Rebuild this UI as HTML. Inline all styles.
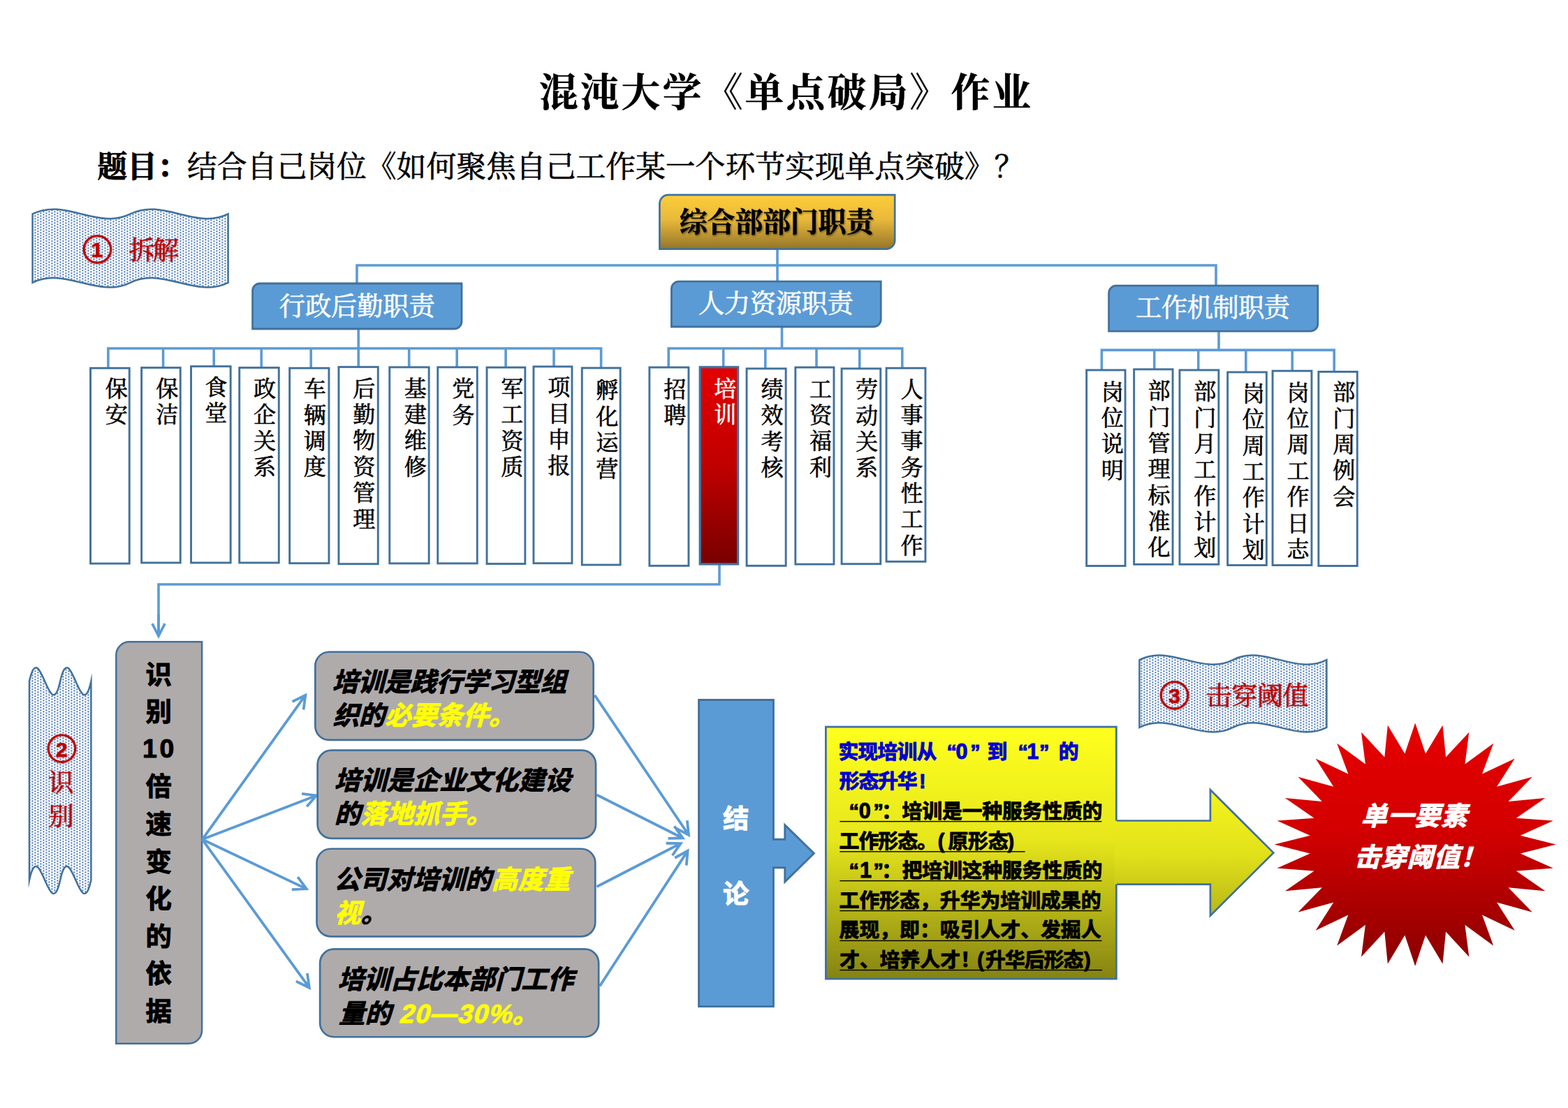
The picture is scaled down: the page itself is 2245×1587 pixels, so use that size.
<!DOCTYPE html>
<html lang="zh-CN"><head><meta charset="utf-8"><title>混沌大学《单点破局》作业</title>
<style>html,body{margin:0;padding:0;background:#fff}
body{width:2245px;height:1587px;position:relative;overflow:hidden;font-family:"Liberation Sans","Noto Sans CJK SC",sans-serif}
svg{position:absolute;left:0;top:0;display:block}
svg .sf{font-family:"Liberation Serif","Noto Serif CJK SC",serif}
svg .ss{font-family:"Liberation Sans","Noto Sans CJK SC",sans-serif;font-weight:bold}</style></head><body>
<svg width="2245" height="1587" viewBox="0 0 2245 1587">
<defs><pattern id="dots" width="8" height="4" patternUnits="userSpaceOnUse" patternTransform="translate(0.4,0.4)"><rect width="8" height="4" fill="#fff"/><rect x="1" y="0" width="2" height="2" fill="#3f70b4"/><rect x="5" y="2" width="2" height="2" fill="#3f70b4"/></pattern>
<linearGradient id="gred" x1="0" y1="0" x2="0" y2="1"><stop offset="0" stop-color="#e40000"/><stop offset="0.5" stop-color="#c00000"/><stop offset="1" stop-color="#780000"/></linearGradient>
<linearGradient id="gstar" x1="0" y1="0" x2="0" y2="1"><stop offset="0" stop-color="#e60000"/><stop offset="0.45" stop-color="#d20000"/><stop offset="1" stop-color="#8a0000"/></linearGradient>
<linearGradient id="ggold" x1="0" y1="0" x2="0" y2="1"><stop offset="0" stop-color="#fdcd3a"/><stop offset="0.45" stop-color="#e9b93b"/><stop offset="1" stop-color="#94752a"/></linearGradient>
<linearGradient id="gyel" x1="0" y1="0" x2="0" y2="1"><stop offset="0" stop-color="#ffff1e"/><stop offset="0.45" stop-color="#e6e61c"/><stop offset="1" stop-color="#858312"/></linearGradient>
<linearGradient id="gyel2" x1="0" y1="0" x2="0" y2="1"><stop offset="0" stop-color="#f4f41e"/><stop offset="0.5" stop-color="#e2e21b"/><stop offset="1" stop-color="#b8b616"/></linearGradient>
<filter id="tsh" x="-5%" y="-20%" width="110%" height="150%"><feDropShadow dx="1.2" dy="1.6" stdDeviation="1.2" flood-color="#000" flood-opacity="0.45"/></filter>
<filter id="tsh2" x="-10%" y="-20%" width="120%" height="150%"><feDropShadow dx="0.7" dy="1" stdDeviation="0.9" flood-color="#000" flood-opacity="0.3"/></filter>
</defs>
<rect width="2245" height="1587" fill="#fff"/>
<text class="sf" x="771.67" y="152.44" font-size="55.91" font-weight="bold" letter-spacing="3.07" fill="#000" stroke="#000" stroke-width="0.5" stroke-linejoin="round">混沌大学《单点破局》作业</text>
<text class="sf" x="139.46" y="253.86" font-size="42.8" font-weight="bold" fill="#000" stroke="#000" stroke-width="0.8" stroke-linejoin="round">题目：</text>
<text class="sf" x="268.06" y="253.86" font-size="42.8" fill="#000" stroke="#000" stroke-width="0.64" stroke-linejoin="round">结合自己岗位《如何聚焦自己工作某一个环节实现单点突破》？</text>
<polyline points="511,406 511,380 1741,380 1741,409" fill="none" stroke="#5b9bd5" stroke-width="3.6" stroke-linejoin="miter"/>
<polyline points="1113,357 1113,403" fill="none" stroke="#5b9bd5" stroke-width="3.6" stroke-linejoin="miter"/>
<polyline points="513.2,471 513.2,499" fill="none" stroke="#5b9bd5" stroke-width="3.6" stroke-linejoin="miter"/>
<polyline points="154.9,526.8 154.9,499 860.6,499 860.6,526.6" fill="none" stroke="#5b9bd5" stroke-width="3.6" stroke-linejoin="miter"/>
<polyline points="233.6,499 233.6,526.2" fill="none" stroke="#5b9bd5" stroke-width="3.6" stroke-linejoin="miter"/>
<polyline points="306.2,499 306.2,524.3" fill="none" stroke="#5b9bd5" stroke-width="3.6" stroke-linejoin="miter"/>
<polyline points="374.2,499 374.2,526.2" fill="none" stroke="#5b9bd5" stroke-width="3.6" stroke-linejoin="miter"/>
<polyline points="445.2,499 445.2,526.8" fill="none" stroke="#5b9bd5" stroke-width="3.6" stroke-linejoin="miter"/>
<polyline points="513.2,499 513.2,525.2" fill="none" stroke="#5b9bd5" stroke-width="3.6" stroke-linejoin="miter"/>
<polyline points="585.7,499 585.7,525.5" fill="none" stroke="#5b9bd5" stroke-width="3.6" stroke-linejoin="miter"/>
<polyline points="654.2,499 654.2,525.5" fill="none" stroke="#5b9bd5" stroke-width="3.6" stroke-linejoin="miter"/>
<polyline points="724.1,499 724.1,525.8" fill="none" stroke="#5b9bd5" stroke-width="3.6" stroke-linejoin="miter"/>
<polyline points="793,499 793,524.6" fill="none" stroke="#5b9bd5" stroke-width="3.6" stroke-linejoin="miter"/>
<polyline points="1119.5,468 1119.5,499" fill="none" stroke="#5b9bd5" stroke-width="3.6" stroke-linejoin="miter"/>
<polyline points="957.2,525.7 957.2,499 1291.8,499 1291.8,526.8" fill="none" stroke="#5b9bd5" stroke-width="3.6" stroke-linejoin="miter"/>
<polyline points="1035.7,499 1035.7,525.2" fill="none" stroke="#5b9bd5" stroke-width="3.6" stroke-linejoin="miter"/>
<polyline points="1095.8,499 1095.8,527.5" fill="none" stroke="#5b9bd5" stroke-width="3.6" stroke-linejoin="miter"/>
<polyline points="1169,499 1169,525.7" fill="none" stroke="#5b9bd5" stroke-width="3.6" stroke-linejoin="miter"/>
<polyline points="1230.7,499 1230.7,527.5" fill="none" stroke="#5b9bd5" stroke-width="3.6" stroke-linejoin="miter"/>
<polyline points="1745,474 1745,501.4" fill="none" stroke="#5b9bd5" stroke-width="3.6" stroke-linejoin="miter"/>
<polyline points="1577.4,529.6 1577.4,501.4 1910.2,501.4 1910.2,532" fill="none" stroke="#5b9bd5" stroke-width="3.6" stroke-linejoin="miter"/>
<polyline points="1652.7,501.4 1652.7,528.5" fill="none" stroke="#5b9bd5" stroke-width="3.6" stroke-linejoin="miter"/>
<polyline points="1715.7,501.4 1715.7,529.6" fill="none" stroke="#5b9bd5" stroke-width="3.6" stroke-linejoin="miter"/>
<polyline points="1783.8,501.4 1783.8,532.6" fill="none" stroke="#5b9bd5" stroke-width="3.6" stroke-linejoin="miter"/>
<polyline points="1850.2,501.4 1850.2,530.8" fill="none" stroke="#5b9bd5" stroke-width="3.6" stroke-linejoin="miter"/>
<polyline points="1030,808 1030,837 227,837 227,909" fill="none" stroke="#5b9bd5" stroke-width="3.6" stroke-linejoin="miter"/>
<path d="M227,880 L227,911 M217.92,893.18 L227,911 L236.08,893.18" fill="none" stroke="#5b9bd5" stroke-width="3.6" stroke-linecap="butt" stroke-linejoin="miter"/>
<rect x="129.55" y="527.25" width="55.7" height="279.9" fill="#fff" stroke="#41719c" stroke-width="2.9"/>
<text class="sf" font-size="32.1" fill="#000" stroke="#000" stroke-width="0.64" stroke-linejoin="round" x="150.65 150.65" y="567.95 605.3">保安</text>
<rect x="202.65" y="526.65" width="55.6" height="279.4" fill="#fff" stroke="#41719c" stroke-width="2.9"/>
<text class="sf" font-size="32.1" fill="#000" stroke="#000" stroke-width="0.64" stroke-linejoin="round" x="223.25 223.25" y="567.95 605.3">保洁</text>
<rect x="273.55" y="524.75" width="56.6" height="281.3" fill="#fff" stroke="#41719c" stroke-width="2.9"/>
<text class="sf" font-size="32.1" fill="#000" stroke="#000" stroke-width="0.64" stroke-linejoin="round" x="293.15 293.15" y="565.75 603.1">食堂</text>
<rect x="342.75" y="526.65" width="56.5" height="279.4" fill="#fff" stroke="#41719c" stroke-width="2.9"/>
<text class="sf" font-size="32.1" fill="#000" stroke="#000" stroke-width="0.64" stroke-linejoin="round" x="362.95 362.95 362.95 362.95" y="567.95 605.3 642.65 680">政企关系</text>
<rect x="414.65" y="527.25" width="56.3" height="279.5" fill="#fff" stroke="#41719c" stroke-width="2.9"/>
<text class="sf" font-size="32.1" fill="#000" stroke="#000" stroke-width="0.64" stroke-linejoin="round" x="434.65 434.65 434.65 434.65" y="568.35 605.7 643.05 680.4">车辆调度</text>
<rect x="484.95" y="525.65" width="56.3" height="282.1" fill="#fff" stroke="#41719c" stroke-width="2.9"/>
<text class="sf" font-size="32.1" fill="#000" stroke="#000" stroke-width="0.64" stroke-linejoin="round" x="505.25 505.25 505.25 505.25 505.25 505.25" y="567.75 605.1 642.45 679.8 717.15 754.5">后勤物资管理</text>
<rect x="557.75" y="525.95" width="56.4" height="281" fill="#fff" stroke="#41719c" stroke-width="2.9"/>
<text class="sf" font-size="32.1" fill="#000" stroke="#000" stroke-width="0.64" stroke-linejoin="round" x="578.65 578.65 578.65 578.65" y="567.75 605.1 642.45 679.8">基建维修</text>
<rect x="626.75" y="525.95" width="56.5" height="281" fill="#fff" stroke="#41719c" stroke-width="2.9"/>
<text class="sf" font-size="32.1" fill="#000" stroke="#000" stroke-width="0.64" stroke-linejoin="round" x="647.25 647.25" y="568.35 605.7">党务</text>
<rect x="697.05" y="526.25" width="54.8" height="281.3" fill="#fff" stroke="#41719c" stroke-width="2.9"/>
<text class="sf" font-size="32.1" fill="#000" stroke="#000" stroke-width="0.64" stroke-linejoin="round" x="717.15 717.15 717.15 717.15" y="567.95 605.3 642.65 680">军工资质</text>
<rect x="763.95" y="525.05" width="55" height="281.7" fill="#fff" stroke="#41719c" stroke-width="2.9"/>
<text class="sf" font-size="32.1" fill="#000" stroke="#000" stroke-width="0.64" stroke-linejoin="round" x="784.25 784.25 784.25 784.25" y="566.15 603.5 640.85 678.2">项目申报</text>
<rect x="833.25" y="527.05" width="54.9" height="282" fill="#fff" stroke="#41719c" stroke-width="2.9"/>
<text class="sf" font-size="32.1" fill="#000" stroke="#000" stroke-width="0.64" stroke-linejoin="round" x="853.25 853.25 853.25 853.25" y="570.45 607.8 645.15 682.5">孵化运营</text>
<rect x="929.85" y="526.15" width="56.1" height="284.2" fill="#fff" stroke="#41719c" stroke-width="2.9"/>
<text class="sf" font-size="32.1" fill="#000" stroke="#000" stroke-width="0.64" stroke-linejoin="round" x="950.25 950.25" y="568.75 606.1">招聘</text>
<rect x="1002.25" y="525.85" width="54.3" height="282.1" fill="url(#gred)" stroke="#41719c" stroke-width="3.3"/>
<text class="sf" font-size="32.1" fill="#fff" stroke="#fff" stroke-width="0.64" stroke-linejoin="round" x="1022.25 1022.25" y="567.95 605.3">培训</text>
<rect x="1069.05" y="527.95" width="56.1" height="282.4" fill="#fff" stroke="#41719c" stroke-width="2.9"/>
<text class="sf" font-size="32.1" fill="#000" stroke="#000" stroke-width="0.64" stroke-linejoin="round" x="1089.55 1089.55 1089.55 1089.55" y="568.95 606.3 643.65 681">绩效考核</text>
<rect x="1138.85" y="526.15" width="55.1" height="282" fill="#fff" stroke="#41719c" stroke-width="2.9"/>
<text class="sf" font-size="32.1" fill="#000" stroke="#000" stroke-width="0.64" stroke-linejoin="round" x="1158.95 1158.95 1158.95 1158.95" y="568.55 605.9 643.25 680.6">工资福利</text>
<rect x="1205.05" y="527.95" width="55.7" height="279.8" fill="#fff" stroke="#41719c" stroke-width="2.9"/>
<text class="sf" font-size="32.1" fill="#000" stroke="#000" stroke-width="0.64" stroke-linejoin="round" x="1224.95 1224.95 1224.95 1224.95" y="569.35 606.7 644.05 681.4">劳动关系</text>
<rect x="1269.05" y="527.25" width="55.9" height="277.1" fill="#fff" stroke="#41719c" stroke-width="2.9"/>
<text class="sf" font-size="32.1" fill="#000" stroke="#000" stroke-width="0.64" stroke-linejoin="round" x="1289.45 1289.45 1289.45 1289.45 1289.45 1289.45 1289.45" y="568.55 605.9 643.25 680.6 717.95 755.3 792.65">人事事务性工作</text>
<rect x="1555.65" y="530.05" width="55.4" height="280.5" fill="#fff" stroke="#41719c" stroke-width="2.9"/>
<text class="sf" font-size="32.1" fill="#000" stroke="#000" stroke-width="0.64" stroke-linejoin="round" x="1576.65 1576.65 1576.65 1576.65" y="572.55 609.9 647.25 684.6">岗位说明</text>
<rect x="1623.65" y="528.95" width="55.4" height="279.4" fill="#fff" stroke="#41719c" stroke-width="2.9"/>
<text class="sf" font-size="32.1" fill="#000" stroke="#000" stroke-width="0.64" stroke-linejoin="round" x="1643.45 1643.45 1643.45 1643.45 1643.45 1643.45 1643.45" y="571.35 608.7 646.05 683.4 720.75 758.1 795.45">部门管理标准化</text>
<rect x="1688.95" y="530.05" width="55.9" height="278.3" fill="#fff" stroke="#41719c" stroke-width="2.9"/>
<text class="sf" font-size="32.1" fill="#000" stroke="#000" stroke-width="0.64" stroke-linejoin="round" x="1709.25 1709.25 1709.25 1709.25 1709.25 1709.25 1709.25" y="572.35 609.7 647.05 684.4 721.75 759.1 796.45">部门月工作计划</text>
<rect x="1757.65" y="533.05" width="55.7" height="276.5" fill="#fff" stroke="#41719c" stroke-width="2.9"/>
<text class="sf" font-size="32.1" fill="#000" stroke="#000" stroke-width="0.64" stroke-linejoin="round" x="1778.65 1778.65 1778.65 1778.65 1778.65 1778.65 1778.65" y="574.95 612.3 649.65 687 724.35 761.7 799.05">岗位周工作计划</text>
<rect x="1822.05" y="531.25" width="55.9" height="278.3" fill="#fff" stroke="#41719c" stroke-width="2.9"/>
<text class="sf" font-size="32.1" fill="#000" stroke="#000" stroke-width="0.64" stroke-linejoin="round" x="1842.55 1842.55 1842.55 1842.55 1842.55 1842.55 1842.55" y="573.75 611.1 648.45 685.8 723.15 760.5 797.85">岗位周工作日志</text>
<rect x="1887.85" y="532.45" width="55.4" height="278.1" fill="#fff" stroke="#41719c" stroke-width="2.9"/>
<text class="sf" font-size="32.1" fill="#000" stroke="#000" stroke-width="0.64" stroke-linejoin="round" x="1908.35 1908.35 1908.35 1908.35 1908.35" y="573.35 610.7 648.05 685.4 722.75">部门周例会</text>
<path d="M956.9,279.2 L1281.2,279.2 L1281.2,344.2 A12.5,12.5 0 0 1 1268.7,356.7 L944.4,356.7 L944.4,291.7 A12.5,12.5 0 0 1 956.9,279.2 Z" fill="url(#ggold)" stroke="#41719c" stroke-width="2.7"/>
<g filter="url(#tsh)"><text class="sf" x="972.86" y="331.74" font-size="40.1" font-weight="bold" letter-spacing="-0.36" fill="#000" stroke="#000" stroke-width="0.5" stroke-linejoin="round">综合部部门职责</text></g>
<path d="M372.1,406 L661,406 L661,460.5 A10.5,10.5 0 0 1 650.5,471 L361.6,471 L361.6,416.5 A10.5,10.5 0 0 1 372.1,406 Z" fill="#5b9bd5" stroke="#41719c" stroke-width="2.8"/>
<text class="sf" x="399.78" y="452.43" font-size="37.45" letter-spacing="-0.3" fill="#fff" stroke="#fff" stroke-width="0.64" stroke-linejoin="round">行政后勤职责</text>
<path d="M971.9,403.2 L1261.2,403.2 L1261.2,457.5 A10.5,10.5 0 0 1 1250.7,468 L961.4,468 L961.4,413.7 A10.5,10.5 0 0 1 971.9,403.2 Z" fill="#5b9bd5" stroke="#41719c" stroke-width="2.8"/>
<text class="sf" x="999.66" y="448.13" font-size="37.45" letter-spacing="-0.45" fill="#fff" stroke="#fff" stroke-width="0.64" stroke-linejoin="round">人力资源职责</text>
<path d="M1598.1,409.2 L1886.8,409.2 L1886.8,463.9 A10.5,10.5 0 0 1 1876.3,474.4 L1587.6,474.4 L1587.6,419.7 A10.5,10.5 0 0 1 1598.1,409.2 Z" fill="#5b9bd5" stroke="#41719c" stroke-width="2.8"/>
<text class="sf" x="1626.03" y="454.23" font-size="37.45" letter-spacing="-0.72" fill="#fff" stroke="#fff" stroke-width="0.64" stroke-linejoin="round">工作机制职责</text>
<path d="M46.6,306.42 C93.27,283.01 139.93,329.84 186.6,306.42 C233.27,283.01 279.93,329.84 326.6,306.42 L326.6,404.77 C279.93,428.19 233.27,381.36 186.6,404.77 C139.93,428.19 93.27,381.36 46.6,404.77 Z" fill="url(#dots)" stroke="#41719c" stroke-width="2.5" stroke-linejoin="miter" stroke-miterlimit="12"/>
<path d="M1631.4,945.11 C1676.07,922.07 1720.73,968.15 1765.4,945.11 C1810.07,922.07 1854.73,968.15 1899.4,945.11 L1899.4,1041.89 C1854.73,1064.93 1810.07,1018.85 1765.4,1041.89 C1720.73,1064.93 1676.07,1018.85 1631.4,1041.89 Z" fill="url(#dots)" stroke="#41719c" stroke-width="2.5" stroke-linejoin="miter" stroke-miterlimit="12"/>
<path d="M42,975.74 C56.73,907.95 71.47,1043.53 86.2,975.74 C100.93,907.95 115.67,1043.53 130.4,975.74 L130.4,1260.46 C115.67,1328.25 100.93,1192.67 86.2,1260.46 C71.47,1328.25 56.73,1192.67 42,1260.46 Z" fill="url(#dots)" stroke="#41719c" stroke-width="2.5" stroke-linejoin="miter" stroke-miterlimit="12"/>
<g filter="url(#tsh2)"><circle cx="139.4" cy="357" r="19.3" fill="none" stroke="#c00000" stroke-width="3.1"/>
<text class="ss" x="130.14" y="368.26" font-size="30.4" fill="#c00000" stroke="#c00000" stroke-width="0.6" stroke-linejoin="round">1</text></g>
<g filter="url(#tsh2)"><text class="sf" x="184.31" y="371.53" font-size="37.45" letter-spacing="-3.2" fill="#c00000" stroke="#c00000" stroke-width="0.56" stroke-linejoin="round">拆解</text></g>
<g filter="url(#tsh2)"><circle cx="1681.5" cy="995.8" r="19.3" fill="none" stroke="#c00000" stroke-width="3.1"/>
<text class="ss" x="1672.99" y="1007.05" font-size="30.4" fill="#c00000" stroke="#c00000" stroke-width="0.6" stroke-linejoin="round">3</text></g>
<g filter="url(#tsh2)"><text class="sf" x="1726.31" y="1009.73" font-size="37.45" letter-spacing="-0.75" fill="#c00000" stroke="#c00000" stroke-width="0.56" stroke-linejoin="round">击穿阈值</text></g>
<g filter="url(#tsh2)"><circle cx="88.4" cy="1072.1" r="19.3" fill="none" stroke="#c00000" stroke-width="3.1"/>
<text class="ss" x="79.68" y="1083.56" font-size="30.4" fill="#c00000" stroke="#c00000" stroke-width="0.6" stroke-linejoin="round">2</text></g>
<g filter="url(#tsh2)"><text class="sf" font-size="36.5" fill="#c00000" stroke="#c00000" stroke-width="0.55" stroke-linejoin="round" x="69.05 69.05" y="1134.27 1182.47">识别</text></g>
<path d="M185.3,919.3 L289.1,919.3 L289.1,1475.7 A19,19 0 0 1 270.1,1494.7 L166.3,1494.7 L166.3,938.3 A19,19 0 0 1 185.3,919.3 Z" fill="#afabab" stroke="#41719c" stroke-width="2.5"/>
<text class="ss" font-size="37.45" fill="#000" stroke="#000" stroke-width="1" stroke-linejoin="round" x="208.47 208.47 203.93 228.53 208.47 208.47 208.47 208.47 208.47 208.47 208.47" y="979.66 1033.26 1084.8 1084.8 1140.46 1194.06 1247.66 1301.26 1354.86 1408.46 1462.06">识别10倍速变化的依据</text>
<path d="M289.6,1202.3 L437.3,995.7 M434.54,1016.52 L437.3,995.7 L418.5,1005.05" fill="none" stroke="#5b9bd5" stroke-width="3.8" stroke-linecap="butt" stroke-linejoin="miter"/>
<path d="M289.6,1202.3 L453,1139.4 M439.24,1155.26 L453,1139.4 L432.15,1136.86" fill="none" stroke="#5b9bd5" stroke-width="3.8" stroke-linecap="butt" stroke-linejoin="miter"/>
<path d="M289.6,1202.3 L438.8,1273.1 M417.82,1274.06 L438.8,1273.1 L426.28,1256.24" fill="none" stroke="#5b9bd5" stroke-width="3.8" stroke-linecap="butt" stroke-linejoin="miter"/>
<path d="M289.6,1202.3 L442.8,1414.7 M423.96,1405.43 L442.8,1414.7 L439.95,1393.89" fill="none" stroke="#5b9bd5" stroke-width="3.8" stroke-linecap="butt" stroke-linejoin="miter"/>
<path d="M851.5,995.7 L986,1196 M967.48,1186.1 L986,1196 L983.85,1175.11" fill="none" stroke="#5b9bd5" stroke-width="3.8" stroke-linecap="butt" stroke-linejoin="miter"/>
<path d="M854.5,1138.5 L977.6,1200.5 M956.61,1200.96 L977.6,1200.5 L965.47,1183.35" fill="none" stroke="#5b9bd5" stroke-width="3.8" stroke-linecap="butt" stroke-linejoin="miter"/>
<path d="M854.5,1270 L974.6,1208 M962.65,1225.27 L974.6,1208 L953.6,1207.75" fill="none" stroke="#5b9bd5" stroke-width="3.8" stroke-linecap="butt" stroke-linejoin="miter"/>
<path d="M858.8,1412.2 L984.6,1218.6 M982.76,1239.52 L984.6,1218.6 L966.23,1228.78" fill="none" stroke="#5b9bd5" stroke-width="3.8" stroke-linecap="butt" stroke-linejoin="miter"/>
<rect x="451.35" y="933.75" width="398.3" height="126.2" rx="20" fill="#afabab" stroke="#41719c" stroke-width="2.7"/>
<rect x="454.65" y="1074.65" width="398.4" height="126.2" rx="20" fill="#afabab" stroke="#41719c" stroke-width="2.7"/>
<rect x="453.55" y="1215.75" width="398.7" height="125.6" rx="20" fill="#afabab" stroke="#41719c" stroke-width="2.7"/>
<rect x="458.15" y="1359.35" width="399" height="125.9" rx="20" fill="#afabab" stroke="#41719c" stroke-width="2.7"/>
<text class="ss" transform="translate(475.56,989.73) matrix(1,0,-0.26,1,0,0)" font-size="37.45" letter-spacing="-0.19" fill="#000" stroke="#000" stroke-width="1" stroke-linejoin="round">培训是践行学习型组</text>
<text class="ss" transform="translate(476.46,1038.23) matrix(1,0,-0.26,1,0,0)" font-size="37.45" letter-spacing="-0.19" fill="#000" stroke="#000" stroke-width="1" stroke-linejoin="round">织的</text>
<text class="ss" transform="translate(551.02,1038.23) matrix(1,0,-0.26,1,0,0)" font-size="37.45" letter-spacing="-0.19" fill="#ffff00" stroke="#ffff00" stroke-width="1" stroke-linejoin="round">必要条件。</text>
<text class="ss" transform="translate(478.56,1131.23) matrix(1,0,-0.26,1,0,0)" font-size="37.45" letter-spacing="0.22" fill="#000" stroke="#000" stroke-width="1" stroke-linejoin="round">培训是企业文化建设</text>
<text class="ss" transform="translate(478.85,1179.23) matrix(1,0,-0.26,1,0,0)" font-size="37.45" fill="#000" stroke="#000" stroke-width="1" stroke-linejoin="round">的</text>
<text class="ss" transform="translate(516.52,1179.23) matrix(1,0,-0.26,1,0,0)" font-size="37.45" letter-spacing="0.22" fill="#ffff00" stroke="#ffff00" stroke-width="1" stroke-linejoin="round">落地抓手。</text>
<text class="ss" transform="translate(478.22,1272.83) matrix(1,0,-0.26,1,0,0)" font-size="37.45" letter-spacing="0.11" fill="#000" stroke="#000" stroke-width="1" stroke-linejoin="round">公司对培训的</text>
<text class="ss" transform="translate(703.64,1272.83) matrix(1,0,-0.26,1,0,0)" font-size="37.45" letter-spacing="0.11" fill="#ffff00" stroke="#ffff00" stroke-width="1" stroke-linejoin="round">高度重</text>
<text class="ss" transform="translate(479.1,1321.13) matrix(1,0,-0.26,1,0,0)" font-size="37.45" fill="#ffff00" stroke="#ffff00" stroke-width="1" stroke-linejoin="round">视</text>
<text class="ss" transform="translate(516.67,1321.13) matrix(1,0,-0.26,1,0,0)" font-size="37.45" fill="#000" stroke="#000" stroke-width="1" stroke-linejoin="round">。</text>
<text class="ss" transform="translate(483.56,1416.23) matrix(1,0,-0.26,1,0,0)" font-size="37.45" letter-spacing="0.08" fill="#000" stroke="#000" stroke-width="1" stroke-linejoin="round">培训占比本部门工作</text>
<text class="ss" transform="translate(484.99,1464.63) matrix(1,0,-0.26,1,0,0)" font-size="37.45" letter-spacing="0.08" fill="#000" stroke="#000" stroke-width="1" stroke-linejoin="round">量的</text>
<text class="ss" transform="translate(570.69,1464.63) matrix(1,0,-0.26,1,0,0)" font-size="37.45" textLength="200" lengthAdjust="spacing" fill="#ffff00" stroke="#ffff00" stroke-width="1" stroke-linejoin="round">20—30%。</text>
<path d="M1000.6,1002.5 H1107.4 V1202.2 H1123.8 V1181.6 L1165.4,1222.3 L1123.8,1263 V1242.7 H1107.4 V1441.6 H1000.6 Z" fill="#5b9bd5" stroke="#41719c" stroke-width="2.9" stroke-linejoin="miter"/>
<text class="ss" x="1034.88" y="1185.83" font-size="37.45" fill="#fff" stroke="#fff" stroke-width="1" stroke-linejoin="round">结</text>
<text class="ss" x="1034.88" y="1293.83" font-size="37.45" fill="#fff" stroke="#fff" stroke-width="1" stroke-linejoin="round">论</text>
<rect x="1182.4" y="1041.1" width="415.9" height="360.9" fill="url(#gyel)" stroke="#41719c" stroke-width="2.8"/>
<polygon points="1595.5,1175.5 1732.9,1175.5 1732.9,1131.3 1823.3,1221.4 1732.9,1311.5 1732.9,1266.6 1595.5,1266.6" fill="url(#gyel2)"/>
<polyline points="1599,1175.5 1732.9,1175.5 1732.9,1131.3 1823.3,1221.4 1732.9,1311.5 1732.9,1266.6 1599,1266.6" fill="none" stroke="#41719c" stroke-width="2.7" stroke-linejoin="miter"/>
<text class="ss" font-size="28.85" fill="#0000d2" stroke="#0000d2" stroke-width="1" stroke-linejoin="round"><tspan x="1200.44" y="1086.96" letter-spacing="-0.8">实现培训从</tspan><tspan x="1355.59" y="1086.96">“</tspan><tspan x="1368.56" y="1086.96" font-size="30.5">0</tspan><tspan x="1389.28" y="1086.96">”</tspan><tspan x="1413.53" y="1086.96">到</tspan><tspan x="1457.49" y="1086.96">“</tspan><tspan x="1470.2" y="1086.96" font-size="30.5">1</tspan><tspan x="1487.88" y="1086.96">”</tspan><tspan x="1515.69" y="1086.96">的</tspan></text>
<text class="ss" font-size="28.85" fill="#0000d2" stroke="#0000d2" stroke-width="1" stroke-linejoin="round"><tspan x="1201.82" y="1128.96" letter-spacing="-1.18">形态升华</tspan><tspan x="1316.09" y="1128.96">!</tspan></text>
<text class="ss" font-size="28.85" fill="#000" stroke="#000" stroke-width="1" stroke-linejoin="round"><tspan x="1215.49" y="1171.66">“</tspan><tspan x="1229.66" y="1171.66" font-size="30.5">0</tspan><tspan x="1250.48" y="1171.66">”</tspan><tspan x="1262.23" y="1171.66">：</tspan><tspan x="1291.55" y="1171.66" letter-spacing="-0.17">培训是一种服务性质的</tspan></text>
<text class="ss" font-size="28.85" fill="#000" stroke="#000" stroke-width="1" stroke-linejoin="round"><tspan x="1201.5" y="1214.96" letter-spacing="-0.95">工作形态。</tspan><tspan x="1342.75" y="1214.96">(</tspan><tspan x="1357.39" y="1214.96" letter-spacing="-0.14">原形态</tspan><tspan x="1442.4" y="1214.96">)</tspan></text>
<text class="ss" font-size="28.85" fill="#000" stroke="#000" stroke-width="1" stroke-linejoin="round"><tspan x="1215.49" y="1256.56">“</tspan><tspan x="1231" y="1256.56" font-size="30.5">1</tspan><tspan x="1250.48" y="1256.56">”</tspan><tspan x="1262.23" y="1256.56">：</tspan><tspan x="1291.64" y="1256.56" letter-spacing="-0.2">把培训这种服务性质的</tspan></text>
<text class="ss" x="1201.6" y="1299.56" font-size="28.85" fill="#000" stroke="#000" stroke-width="1" stroke-linejoin="round">工作形态，升华为培训成果的</text>
<text class="ss" x="1201.6" y="1342.46" font-size="28.85" fill="#000" stroke="#000" stroke-width="1" stroke-linejoin="round">展现，即：吸引人才、发掘人</text>
<text class="ss" font-size="28.85" fill="#000" stroke="#000" stroke-width="1" stroke-linejoin="round"><tspan x="1201.96" y="1385.36">才、培养人才！</tspan><tspan x="1399.35" y="1385.36">(</tspan><tspan x="1410.98" y="1385.36" letter-spacing="-0.95">升华后形态</tspan><tspan x="1551.9" y="1385.36">)</tspan></text>
<rect x="1202.4" y="1175.9" width="375" height="1.4" fill="#000"/>
<rect x="1202.4" y="1219.1" width="265.2" height="1.4" fill="#000"/>
<rect x="1202.4" y="1260.9" width="375" height="1.4" fill="#000"/>
<rect x="1202.4" y="1303.8" width="375" height="1.4" fill="#000"/>
<rect x="1202.4" y="1346.7" width="375" height="1.4" fill="#000"/>
<rect x="1202.4" y="1388.8" width="375.6" height="1.4" fill="#000"/>
<polygon points="2026.2,1035.4 2041.02,1079.58 2065.53,1038.75 2070.09,1084.58 2103.35,1048.66 2097.48,1094.38 2138.2,1064.76 2122.12,1108.61 2168.75,1086.42 2143.08,1126.72 2193.82,1112.82 2159.55,1148.01 2212.45,1142.94 2170.89,1171.67 2223.93,1175.62 2176.67,1196.79 2227.8,1209.6 2176.67,1222.41 2223.93,1243.58 2170.89,1247.53 2212.45,1276.26 2159.55,1271.19 2193.82,1306.38 2143.08,1292.48 2168.75,1332.78 2122.12,1310.59 2138.2,1354.44 2097.48,1324.82 2103.35,1370.54 2070.09,1334.62 2065.53,1380.45 2041.02,1339.62 2026.2,1383.8 2011.38,1339.62 1986.87,1380.45 1982.31,1334.62 1949.05,1370.54 1954.92,1324.82 1914.2,1354.44 1930.28,1310.59 1883.65,1332.78 1909.32,1292.48 1858.58,1306.38 1892.85,1271.19 1839.95,1276.26 1881.51,1247.53 1828.47,1243.58 1875.73,1222.41 1824.6,1209.6 1875.73,1196.79 1828.47,1175.62 1881.51,1171.67 1839.95,1142.94 1892.85,1148.01 1858.58,1112.82 1909.32,1126.72 1883.65,1086.42 1930.28,1108.61 1914.2,1064.76 1954.92,1094.38 1949.05,1048.66 1982.31,1084.58 1986.87,1038.75 2011.38,1079.58" fill="url(#gstar)"/>
<text class="ss" transform="translate(1948.44,1181.73) matrix(1,0,-0.26,1,0,0)" font-size="37.45" letter-spacing="0.75" fill="#fff" stroke="#fff" stroke-width="1" stroke-linejoin="round">单一要素</text>
<text class="ss" transform="translate(1939.05,1241.03) matrix(1,0,-0.26,1,0,0)" font-size="37.45" letter-spacing="0.34" fill="#fff" stroke="#fff" stroke-width="1" stroke-linejoin="round">击穿阈值！</text>
</svg>
</body></html>
